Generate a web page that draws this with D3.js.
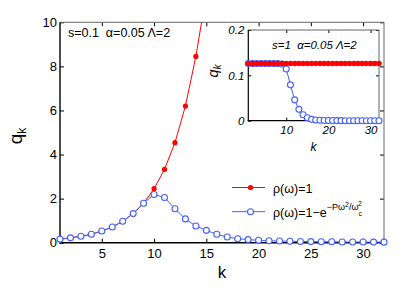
<!DOCTYPE html>
<html lang="en">
<head>
  <meta charset="UTF-8">
  <script src="https://d3js.org/d3.v7.min.js"></script>
  <title>q_k vs k</title>
  <style>
    body { margin: 0; background: #fff; }
    text { font-family: "Liberation Sans", Arial, Helvetica, sans-serif; }
  </style>
</head>
<body>
  <svg id="chart" width="415" height="290"></svg>
  <script>
    // main panel: s=0.1
    const kMain = d3.range(1, 33);
    const qFlat = [0.15, 0.23, 0.29, 0.38, 0.53, 0.71, 0.97, 1.32, 1.79, 2.45, 3.33, 4.54, 6.2, 8.45, 11.3];
    const qCut = [0.16, 0.22, 0.29, 0.38, 0.53, 0.71, 0.97, 1.32, 1.79, 2.19, 2.05, 1.54, 1.08, 0.76, 0.56,
                  0.38, 0.26, 0.18, 0.14, 0.11, 0.09, 0.075, 0.065, 0.055, 0.05, 0.045, 0.04, 0.035, 0.032, 0.03, 0.027, 0.025];
    const xTicksMain = [5, 10, 15, 20, 25, 30];
    const yTicksMain = [0, 2, 4, 6, 8, 10];

    // inset: s=1
    const qFlatInset = kMain.map(() => 0.126);
    const qCutInset = [0.126, 0.126, 0.126, 0.126, 0.126, 0.126, 0.126, 0.126, 0.125, 0.114, 0.079, 0.046, 0.025, 0.013,
                       0.0066, 0.003, 0.0015, 0.001, 0.0006, 0.0004, 0.0003, 0.0002, 0.0001, 0, 0, 0, 0, 0, 0, 0, 0, 0];
    const xTicksInset = [10, 20, 30];
    const yTicksInset = [0, 0.1, 0.2];

    const red = '#ff0000';
    const blue = '#4560ff';

    const svg = d3.select('#chart');
    svg.append('rect').attr('width', 415).attr('height', 290).attr('fill', '#fff');

    // ---------- main axes ----------
    const x = d3.scaleLinear().domain([1, 32]).range([60, 384]);
    const y = d3.scaleLinear().domain([0, 10]).range([242.7, 22.3]);

    svg.append('clipPath').attr('id', 'clipMain')
      .append('rect').attr('x', 60).attr('y', 22.3).attr('width', 324).attr('height', 220.4);

    const tickStyle = (g, size) => {
      g.select('.domain').remove();
      g.selectAll('.tick line').attr('stroke', '#000');
      g.selectAll('.tick text').attr('fill', '#000').style('font-size', size + 'px');
    };

    svg.append('g').attr('transform', 'translate(0,242.7)')
      .call(d3.axisBottom(x).tickValues(xTicksMain).tickSize(-4).tickPadding(6))
      .call(g => tickStyle(g, 13));
    svg.append('g').attr('transform', 'translate(0,22.3)')
      .call(d3.axisTop(x).tickValues(xTicksMain).tickSize(-4).tickFormat(''))
      .call(g => tickStyle(g, 13));
    svg.append('g').attr('transform', 'translate(60,0)')
      .call(d3.axisLeft(y).tickValues(yTicksMain).tickSize(-4).tickPadding(3))
      .call(g => tickStyle(g, 13));
    svg.append('g').attr('transform', 'translate(384,0)')
      .call(d3.axisRight(y).tickValues(yTicksMain).tickSize(-4).tickFormat(''))
      .call(g => tickStyle(g, 13));

    // box
    svg.append('line').attr('x1', 60).attr('x2', 384).attr('y1', 22.3).attr('y2', 22.3).attr('stroke', '#666');
    svg.append('line').attr('x1', 384).attr('x2', 384).attr('y1', 22.3).attr('y2', 242.7).attr('stroke', '#666');
    svg.append('line').attr('x1', 60).attr('x2', 60).attr('y1', 22.3).attr('y2', 243.4).attr('stroke', '#000').attr('stroke-width', 1.4);
    svg.append('line').attr('x1', 59.3).attr('x2', 384).attr('y1', 242.7).attr('y2', 242.7).attr('stroke', '#000').attr('stroke-width', 1.4);

    const lineMain = d3.line().x((d, i) => x(kMain[i])).y(d => y(d));

    // red series (clipped at the top)
    svg.append('path').datum(qFlat)
      .attr('d', lineMain).attr('fill', 'none').attr('stroke', red).attr('stroke-width', 1)
      .attr('clip-path', 'url(#clipMain)');
    svg.append('g').selectAll('circle')
      .data(qFlat.filter(d => d <= 10))
      .enter().append('circle')
      .attr('cx', (d, i) => x(kMain[i])).attr('cy', d => y(d)).attr('r', 2.6).attr('fill', red);

    // blue series
    svg.append('path').datum(qCut)
      .attr('d', lineMain).attr('fill', 'none').attr('stroke', blue).attr('stroke-width', 1);
    svg.append('g').selectAll('circle')
      .data(qCut)
      .enter().append('circle')
      .attr('cx', (d, i) => x(kMain[i])).attr('cy', d => y(d)).attr('r', 3)
      .attr('fill', '#fff').attr('stroke', blue).attr('stroke-width', 1.1);

    // labels
    svg.append('text').attr('x', 222).attr('y', 278).attr('text-anchor', 'middle')
      .style('font-size', '17px').text('k');
    const ql = svg.append('text').attr('transform', 'translate(22,136) rotate(-90)')
      .attr('text-anchor', 'middle').style('font-size', '19px');
    ql.append('tspan').text('q');
    ql.append('tspan').attr('dy', 4).style('font-size', '12px').text('k');

    svg.append('text').attr('x', 68).attr('y', 37).style('font-size', '12.5px')
      .attr('xml:space', 'preserve').text('s=0.1  \u03b1=0.05 \u039b=2');

    // legend
    const leg = svg.append('g');
    leg.append('line').attr('x1', 232).attr('x2', 265).attr('y1', 187.5).attr('y2', 187.5).attr('stroke', red);
    leg.append('circle').attr('cx', 250.5).attr('cy', 187.5).attr('r', 2.6).attr('fill', red);
    leg.append('text').attr('x', 273).attr('y', 192.5).style('font-size', '12.5px').text('\u03c1(\u03c9)=1');
    leg.append('line').attr('x1', 232).attr('x2', 265).attr('y1', 211.7).attr('y2', 211.7).attr('stroke', blue);
    leg.append('circle').attr('cx', 250.5).attr('cy', 211.7).attr('r', 3)
      .attr('fill', '#fff').attr('stroke', blue).attr('stroke-width', 1.1);
    const lt = leg.append('text').attr('x', 273).attr('y', 217).style('font-size', '12.5px');
    lt.append('tspan').text('\u03c1(\u03c9)=1\u2212e');
    lt.append('tspan').attr('dy', -7).style('font-size', '9px').text('\u2212P\u03c9');
    lt.append('tspan').attr('dy', -3).style('font-size', '7px').text('2');
    lt.append('tspan').attr('dy', 3).style('font-size', '9px').text('/\u03c9');
    lt.append('tspan').attr('dy', 6).style('font-size', '7px').text('c');
    lt.append('tspan').attr('dx', -4).attr('dy', -10).style('font-size', '7px').text('2');

    // ---------- inset ----------
    const xi = d3.scaleLinear().domain([1, 32]).range([248.3, 379]);
    const yi = d3.scaleLinear().domain([0, 0.2]).range([120.7, 30]);

    svg.append('rect').attr('x', 248.3).attr('y', 30).attr('width', 130.7).attr('height', 90.7).attr('fill', '#fff');

    svg.append('g').attr('transform', 'translate(0,120.7)')
      .call(d3.axisBottom(xi).tickValues(xTicksInset).tickSize(-3).tickPadding(5))
      .call(g => tickStyle(g, 11.5))
      .call(g => g.selectAll('.tick text').style('font-style', 'italic'));
    svg.append('g').attr('transform', 'translate(0,30)')
      .call(d3.axisTop(xi).tickValues(xTicksInset).tickSize(-3).tickFormat(''))
      .call(g => tickStyle(g, 11.5));
    svg.append('g').attr('transform', 'translate(248.3,0)')
      .call(d3.axisLeft(yi).tickValues(yTicksInset).tickSize(-3).tickPadding(4).tickFormat(d => d === 0 ? '0' : d3.format('.1f')(d)))
      .call(g => tickStyle(g, 11.5))
      .call(g => g.selectAll('.tick text').style('font-style', 'italic'));
    svg.append('g').attr('transform', 'translate(379,0)')
      .call(d3.axisRight(yi).tickValues(yTicksInset).tickSize(-3).tickFormat(''))
      .call(g => tickStyle(g, 11.5));

    svg.append('line').attr('x1', 248.3).attr('x2', 379).attr('y1', 30).attr('y2', 30).attr('stroke', '#666');
    svg.append('line').attr('x1', 379).attr('x2', 379).attr('y1', 30).attr('y2', 120.7).attr('stroke', '#666');
    svg.append('line').attr('x1', 248.3).attr('x2', 248.3).attr('y1', 30).attr('y2', 121.3).attr('stroke', '#000').attr('stroke-width', 1.2);
    svg.append('line').attr('x1', 247.7).attr('x2', 379).attr('y1', 120.7).attr('y2', 120.7).attr('stroke', '#000').attr('stroke-width', 1.2);

    const lineInset = d3.line().x((d, i) => xi(kMain[i])).y(d => yi(d));

    svg.append('path').datum(qCutInset)
      .attr('d', lineInset).attr('fill', 'none').attr('stroke', blue).attr('stroke-width', 1);
    svg.append('g').selectAll('circle')
      .data(qCutInset)
      .enter().append('circle')
      .attr('cx', (d, i) => xi(kMain[i])).attr('cy', d => yi(d)).attr('r', 3)
      .attr('fill', '#fff').attr('stroke', blue).attr('stroke-width', 1.1);

    svg.append('path').datum(qFlatInset)
      .attr('d', lineInset).attr('fill', 'none').attr('stroke', red).attr('stroke-width', 1);
    svg.append('g').selectAll('circle')
      .data(qFlatInset)
      .enter().append('circle')
      .attr('cx', (d, i) => xi(kMain[i])).attr('cy', d => yi(d)).attr('r', 2.8).attr('fill', red);

    svg.append('text').attr('x', 313.5).attr('y', 151).attr('text-anchor', 'middle')
      .style('font-size', '12px').style('font-style', 'italic').text('k');
    const qi = svg.append('text').attr('transform', 'translate(218,71) rotate(-90)')
      .attr('text-anchor', 'middle').style('font-size', '14.5px').style('font-style', 'italic');
    qi.append('tspan').text('q');
    qi.append('tspan').attr('dy', 3).style('font-size', '10px').text('k');

    svg.append('text').attr('x', 272).attr('y', 49).style('font-size', '11.5px').style('font-style', 'italic')
      .attr('xml:space', 'preserve').text('s=1  \u03b1=0.05 \u039b=2');
  </script>
</body>
</html>
